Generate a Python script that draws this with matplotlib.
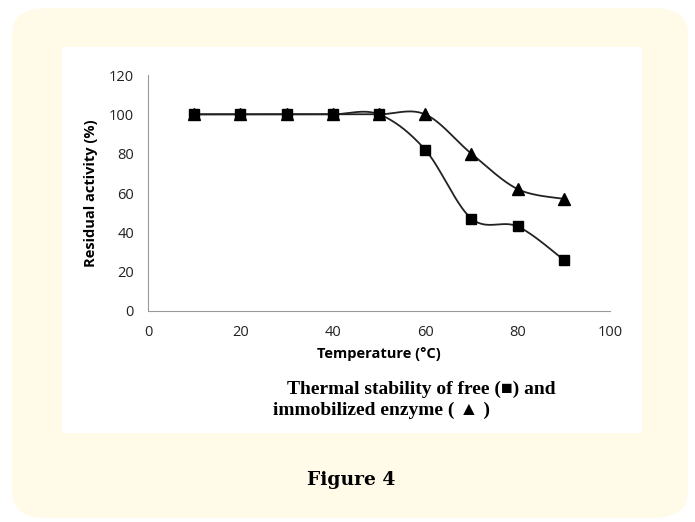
import numpy as np
import matplotlib
matplotlib.use("Agg")
import matplotlib.pyplot as plt
from matplotlib.patches import FancyBboxPatch, Rectangle

temps = [10, 20, 30, 40, 50, 60, 70, 80, 90]
free_act = [100, 100, 100, 100, 100, 82, 47, 43, 26]
immob_act = [100, 100, 100, 100, 100, 100, 80, 62, 57]
xticks = [0, 20, 40, 60, 80, 100]
yticks = [0, 20, 40, 60, 80, 100, 120]


def smooth(x, y, n=30, t=0.5):
    # excel-like smoothed line (catmull-rom through the points)
    x = np.asarray(x, float)
    y = np.asarray(y, float)
    px = np.concatenate([[x[0]], x, [x[-1]]])
    py = np.concatenate([[y[0]], y, [y[-1]]])
    xs, ys = [], []
    s = np.linspace(0, 1, n)
    for i in range(1, len(px) - 2):
        p0 = np.array([px[i - 1], py[i - 1]])
        p1 = np.array([px[i], py[i]])
        p2 = np.array([px[i + 1], py[i + 1]])
        p3 = np.array([px[i + 2], py[i + 2]])
        c1 = p1 + (p2 - p0) * t / 3
        c2 = p2 - (p3 - p1) * t / 3
        for u in s:
            b = ((1 - u) ** 3) * p1 + 3 * ((1 - u) ** 2) * u * c1 + 3 * (1 - u) * u * u * c2 + u ** 3 * p2
            xs.append(b[0])
            ys.append(b[1])
    return xs, ys


fig = plt.figure(figsize=(6.95, 5.22), dpi=100)
fig.patch.set_facecolor("white")

W, H = 695, 522
box = FancyBboxPatch((12 / W, 4 / H), 676 / W, 510 / H,
                     boxstyle="round,pad=0,rounding_size=0.05",
                     transform=fig.transFigure, facecolor="#fffbe8",
                     edgecolor="none", zorder=0)
fig.patches.append(box)
inner = Rectangle((62 / W, 1 - 433 / H), 580 / W, 386 / H,
                  transform=fig.transFigure, facecolor="white",
                  edgecolor="none", zorder=0.5)
fig.patches.append(inner)

ax = fig.add_axes([148 / W, 1 - 311 / H, 462 / W, 236 / H])
ax.set_zorder(3)
ax.set_facecolor("none")

sx, sy = smooth(temps, free_act)
ax.plot(sx, sy, color="#222222", lw=1.3, zorder=2)
sx, sy = smooth(temps, immob_act)
ax.plot(sx, sy, color="#222222", lw=1.3, zorder=2)
ax.plot(temps, free_act, ls="none", marker="s", ms=7.5, color="black", zorder=3)
ax.plot(temps, immob_act, ls="none", marker="^", ms=9, color="black", zorder=3)

ax.set_xlim(0, 100)
ax.set_ylim(0, 120)
ax.set_xticks(xticks)
ax.set_yticks(yticks)
ax.tick_params(length=0, labelsize=10.5, pad=10, labelcolor="#222222")
for lab in ax.get_xticklabels() + ax.get_yticklabels():
    lab.set_fontfamily("Open Sans")
for side in ["top", "right"]:
    ax.spines[side].set_visible(False)
for side in ["left", "bottom"]:
    ax.spines[side].set_color("#999999")
    ax.spines[side].set_linewidth(0.8)

ax.set_xlabel("Temperature (°C)", fontsize=10.5, fontweight="bold",
              fontfamily="Open Sans", labelpad=5)
ax.set_ylabel("Residual activity (%)", fontsize=10.5, fontweight="bold",
              fontfamily="Open Sans", labelpad=8)

fig.text(287 / W, 1 - 389 / H, "Thermal stability of free (■) and",
         fontsize=14, fontweight="bold", family=["Liberation Serif", "DejaVu Sans"],
         ha="left", va="center", zorder=4)
fig.text(273 / W, 1 - 410 / H, "immobilized enzyme ( ▲ )",
         fontsize=14, fontweight="bold", family=["Liberation Serif", "DejaVu Sans"],
         ha="left", va="center", zorder=4)
fig.text(351 / W, 1 - 480 / H, "Figure 4", fontsize=13.5, fontweight="bold",
         family="DejaVu Serif", ha="center", va="center", zorder=4)

fig.savefig("out.png", dpi=100)
